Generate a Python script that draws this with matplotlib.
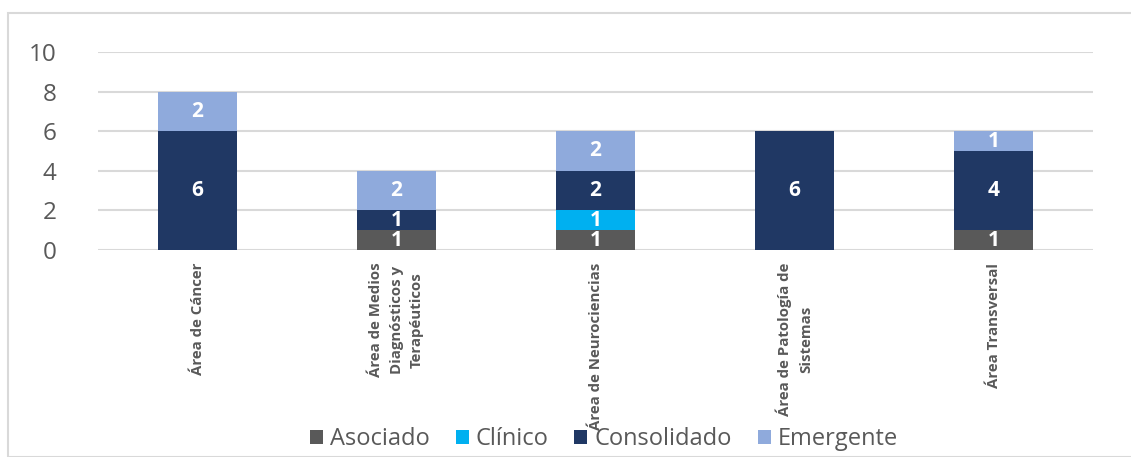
import numpy as np
import matplotlib
matplotlib.use('Agg')
import matplotlib.pyplot as plt
from matplotlib.patches import Rectangle

plt.rcParams['font.family'] = ['Open Sans', 'DejaVu Sans']

# Data
categories = ['Área de Cáncer', 'Área de Medios\nDiagnósticos y\nTerapéuticos',
              'Área de Neurociencias', 'Área de Patología de\nSistemas', 'Área Transversal']
series = ['Asociado', 'Clínico', 'Consolidado', 'Emergente']
asociado = [0, 1, 1, 0, 1]
clinico = [0, 0, 1, 0, 0]
consolidado = [6, 1, 2, 6, 4]
emergente = [2, 2, 2, 0, 1]
yticks = [0, 2, 4, 6, 8, 10]

colors = ['#595959', '#00B0F0', '#203864', '#8FAADC']
grey = '#595959'

fig = plt.figure(figsize=(11.31, 4.57), dpi=100)
ax = fig.add_axes([98 / 1131, 1 - 250 / 457, (1093 - 98) / 1131, 198 / 457])

x = np.arange(len(categories))
bottom = np.zeros(len(categories))
for name, vals, col in zip(series, [asociado, clinico, consolidado, emergente], colors):
    vals = np.array(vals, dtype=float)
    bars = ax.bar(x, vals, 0.4, bottom=bottom, color=col, label=name, zorder=3)
    for b, v, b0 in zip(bars, vals, bottom):
        if v > 0:
            ax.text(b.get_x() + b.get_width() / 2, b0 + v / 2, f'{int(v)}',
                    ha='center', va='center', color='white', fontsize=15,
                    fontweight='bold', zorder=4)
    bottom += vals

ax.set_xlim(-0.5, len(categories) - 0.5)
ax.set_ylim(0, 10)
ax.set_yticks(yticks)
ax.yaxis.grid(True, color='#D9D9D9', linewidth=1.5, zorder=0)
ax.set_axisbelow(True)
for s in ax.spines.values():
    s.set_visible(False)
ax.tick_params(axis='y', length=0, pad=30, labelsize=17.5, labelcolor=grey)
ax.tick_params(axis='x', length=0, pad=9)
ax.set_xticks(x)
ax.set_xticklabels(categories, rotation=90, fontsize=10.8, fontweight='bold',
                   color=grey, va='top', ha='center', multialignment='center',
                   linespacing=1.6)

leg = fig.legend(loc='center', bbox_to_anchor=(604 / 1131, 1 - 439 / 457), ncol=4,
                 frameon=False, fontsize=17, handlelength=0.55, handleheight=0.55,
                 handletextpad=0.3, columnspacing=1.1, labelcolor=grey)

fig.patches.append(Rectangle((8 / 1131, 0), 1, 1 - 13 / 457, transform=fig.transFigure,
                             fill=False, edgecolor='#D9D9D9', linewidth=1.5))

fig.savefig('out.png', dpi=100)
